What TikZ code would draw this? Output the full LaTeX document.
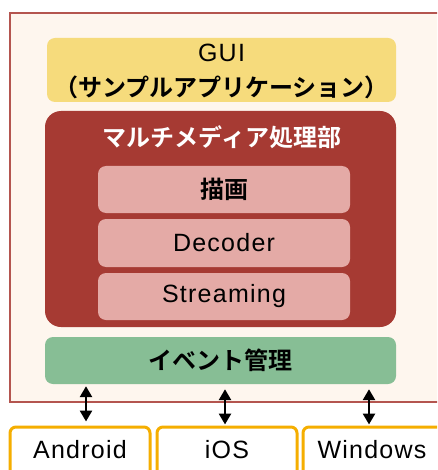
\documentclass[tikz,border=0pt]{standalone}
\usepackage{fontspec}
\setmainfont{Liberation Sans}[LetterSpace=5]
\newfontfamily\jp{Noto Sans CJK JP}[BoldFont={* Bold}]
\usetikzlibrary{arrows.meta}
\definecolor{framefill}{HTML}{FEF6EE}
\definecolor{framedraw}{HTML}{B4554F}
\definecolor{guifill}{HTML}{F6DB7C}
\definecolor{mmfill}{HTML}{A63A33}
\definecolor{innerfill}{HTML}{E4AAA6}
\definecolor{evfill}{HTML}{87BE95}
\definecolor{osdraw}{HTML}{F5AE00}
\tikzset{
  box/.style={rectangle, rounded corners=8pt, inner sep=0pt, anchor=center},
  lat/.style={font=\fontsize{25}{30}\selectfont},
  jpt/.style={font=\jp\bfseries\fontsize{24}{30}\selectfont},
  osbox/.style={box, draw=osdraw, line width=3pt, fill=white, rounded corners=6pt, lat},
  biarrow/.style={{Triangle[length=11pt,width=12pt]}-{Triangle[length=11pt,width=12pt]}, line width=2.6pt, black},
}
\begin{document}
\begin{tikzpicture}[x=1pt,y=-1pt]
\clip (0,0) rectangle (437,470);
\fill[white] (0,0) rectangle (437,470);
\node[box, rounded corners=0pt, draw=framedraw, line width=1.5pt, fill=framefill, minimum width=445pt, minimum height=389pt] (frame) at (232.5,207.5) {};
\node[box, fill=guifill, minimum width=349pt, minimum height=64pt, align=center] (gui) at (221.5,70) {};
\node[lat] (guit) at (221.5,53) {GUI};
\node[jpt] (guij) at (221.5,87) {（サンプルアプリケーション）};
\node[box, fill=mmfill, rounded corners=16pt, minimum width=351pt, minimum height=216pt] (mm) at (220.5,219) {};
\node[jpt, text=white] (mmt) at (222,137) {マルチメディア処理部};
\node[box, fill=innerfill, minimum width=252pt, minimum height=47pt, jpt] (draw) at (224,189.5) {描画};
\node[box, fill=innerfill, minimum width=252pt, minimum height=48pt, lat] (dec) at (224,243) {Decoder};
\node[box, fill=innerfill, minimum width=252pt, minimum height=47pt, lat] (str) at (224,296.5) {Streaming};
\node[box, fill=evfill, minimum width=351pt, minimum height=47pt, jpt] (ev) at (220.5,360.5) {イベント管理};
\node[osbox, minimum width=140pt, minimum height=60pt] (and) at (80,457) {};
\node[lat] at (80,450) {Android};
\node[osbox, minimum width=140pt, minimum height=60pt] (ios) at (227,457) {};
\node[lat] at (227,450) {iOS};
\node[osbox, minimum width=140pt, minimum height=60pt] (win) at (373,457) {};
\node[lat] at (372,450) {Windows};
\coordinate (a1) at (86,0);
\coordinate (a2) at (225,0);
\coordinate (a3) at (369,0);
\draw[biarrow, shorten <=2pt, shorten >=4pt] (ev.south -| a1) -- (and.north -| a1);
\draw[biarrow, shorten <=5pt, shorten >=1pt] (ev.south -| a2) -- (ios.north -| a2);
\draw[biarrow, shorten <=5pt, shorten >=1pt] (ev.south -| a3) -- (win.north -| a3);
\end{tikzpicture}
\end{document}
